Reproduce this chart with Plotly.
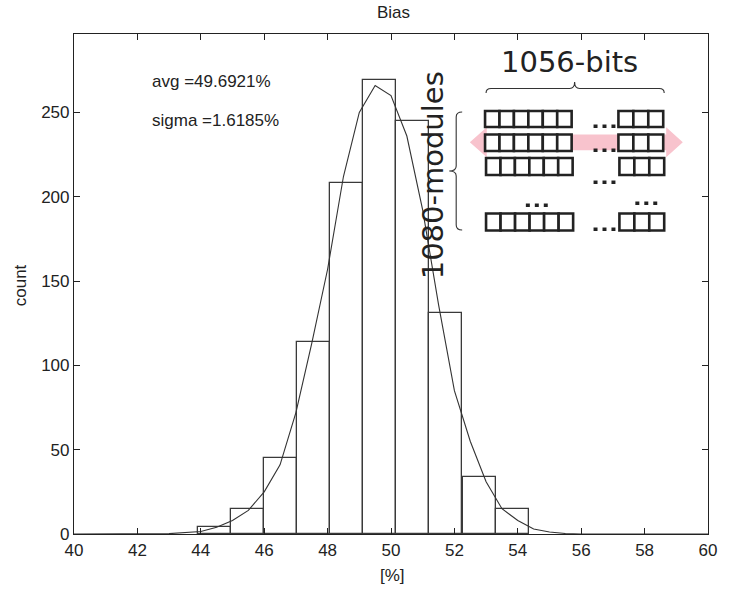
import plotly.graph_objects as go

# ---------------- data ----------------
bin_centers = [44.44, 45.48, 46.52, 47.57, 48.61, 49.65, 50.69, 51.73, 52.78, 53.82]
bin_counts = [4, 15, 45, 114, 208, 269, 245, 131, 34, 15]
bin_width = 1.042

fit_x = [40, 43, 44, 44.5, 45, 45.5, 46, 46.5, 47, 47.5, 48, 48.5, 49, 49.5, 50,
         50.5, 51, 51.5, 52, 52.5, 53, 53.5, 54, 54.5, 55, 55.5, 56, 60]
fit_y = [0, 0.2, 1.5, 4, 8, 14, 25, 41, 72, 113, 157, 212, 250, 266, 260,
         236, 192, 136, 85, 55, 31, 15, 8, 3, 1.2, 0.3, 0, 0]

x_ticks = [40, 42, 44, 46, 48, 50, 52, 54, 56, 58, 60]
y_ticks = [0, 50, 100, 150, 200, 250]

avg_text = "avg =49.6921%"
sigma_text = "sigma =1.6185%"

# ---------------- layout helpers (pixel -> paper) ----------------
W, H = 729, 589
L, R, T, B = 74, 711, 34, 534


def PX(x):
    return (x - L) / (R - L)


def PY(y):
    return (B - y) / (B - T)


def path(points, close=False):
    s = "M " + " L ".join(f"{PX(x):.5f},{PY(y):.5f}" for x, y in points)
    return s + (" Z" if close else "")


FONT = "Liberation Sans, Arial, sans-serif"
INK = "#222222"

fig = go.Figure()

fig.add_trace(go.Bar(
    x=bin_centers, y=bin_counts, width=bin_width,
    marker=dict(color="white", line=dict(color="#3a3a3a", width=1.3)),
    showlegend=False, hoverinfo="x+y",
))
fig.add_trace(go.Scatter(
    x=fit_x, y=fit_y, mode="lines",
    line=dict(color="#333333", width=1.1),
    showlegend=False,
))

shapes = []

# pink double arrow
arrow = [(471.7, 142.3), (488.7, 127.3), (488.7, 134.5), (669, 134.5), (669, 127.3),
         (685.7, 142.3), (669, 157.3), (669, 150.2), (488.7, 150.2), (488.7, 157.3)]
shapes.append(dict(type="path", xref="paper", yref="paper", path=path(arrow, True),
                   fillcolor="#f8c3cd", line=dict(width=0), layer="above"))

# grid of boxes
rows = [
    (111, 127, 487, 574, 621, 666),
    (134.5, 151, 487, 574, 621, 666),
    (158, 175, 488, 575, 622, 667),
    (213.5, 230.5, 488, 575.5, 622, 667),
]
for y0, y1, lx0, lx1, rx0, rx1 in rows:
    for (gx0, gx1, n) in [(lx0, lx1, 6), (rx0, rx1, 3)]:
        w = (gx1 - gx0) / n
        for i in range(n):
            shapes.append(dict(type="rect", xref="paper", yref="paper",
                               x0=PX(gx0 + i * w), x1=PX(gx0 + (i + 1) * w),
                               y0=PY(y1), y1=PY(y0),
                               fillcolor="white", line=dict(color=INK, width=2.6),
                               layer="above"))

# ellipsis dots
dot_groups = [(596, 128), (596, 152), (596, 184), (596, 231), (528, 207), (638, 205)]
for gx, gy in dot_groups:
    for k in range(3):
        x0 = gx + k * 9
        shapes.append(dict(type="rect", xref="paper", yref="paper",
                           x0=PX(x0), x1=PX(x0 + 4), y0=PY(gy), y1=PY(gy - 3.5),
                           fillcolor=INK, line=dict(width=0), layer="above"))

# top brace
top_brace = (f"M {PX(488):.5f},{PY(93):.5f} Q {PX(488):.5f},{PY(88.5):.5f} {PX(493):.5f},{PY(88.5):.5f} "
             f"L {PX(572):.5f},{PY(88.5):.5f} Q {PX(577):.5f},{PY(88.5):.5f} {PX(577):.5f},{PY(82):.5f} "
             f"Q {PX(577):.5f},{PY(88.5):.5f} {PX(582):.5f},{PY(88.5):.5f} "
             f"L {PX(662):.5f},{PY(88.5):.5f} Q {PX(667):.5f},{PY(88.5):.5f} {PX(667):.5f},{PY(93):.5f}")
shapes.append(dict(type="path", xref="paper", yref="paper", path=top_brace,
                   line=dict(color="#333333", width=1.1), layer="above"))

# left brace
left_brace = (f"M {PX(464):.5f},{PY(112):.5f} Q {PX(458):.5f},{PY(112):.5f} {PX(458):.5f},{PY(117):.5f} "
              f"L {PX(458):.5f},{PY(166):.5f} Q {PX(458):.5f},{PY(171):.5f} {PX(451):.5f},{PY(171):.5f} "
              f"Q {PX(458):.5f},{PY(171):.5f} {PX(458):.5f},{PY(176):.5f} "
              f"L {PX(458):.5f},{PY(225):.5f} Q {PX(458):.5f},{PY(230):.5f} {PX(464):.5f},{PY(230):.5f}")
shapes.append(dict(type="path", xref="paper", yref="paper", path=left_brace,
                   line=dict(color="#333333", width=1.1), layer="above"))

annotations = [
    dict(text=avg_text, x=PX(150), y=PY(82), xref="paper", yref="paper", xanchor="left",
         yanchor="middle", showarrow=False, font=dict(family=FONT, size=17, color=INK)),
    dict(text=sigma_text, x=PX(150), y=PY(120), xref="paper", yref="paper", xanchor="left",
         yanchor="middle", showarrow=False, font=dict(family=FONT, size=17, color=INK)),
    dict(text="[%]", x=PX(394), y=PY(575), xref="paper", yref="paper", xanchor="center",
         yanchor="middle", showarrow=False, font=dict(family=FONT, size=17, color=INK)),
    dict(text="count", x=PX(20), y=PY(285), xref="paper", yref="paper", xanchor="center",
         yanchor="middle", textangle=-90, showarrow=False,
         font=dict(family=FONT, size=17, color=INK)),
    dict(text="1056-bits", x=PX(572), y=PY(62), xref="paper", yref="paper", xanchor="center",
         yanchor="middle", showarrow=False, font=dict(family="DejaVu Sans", size=29, color=INK)),
    dict(text="1080-modules", x=PX(435), y=PY(175), xref="paper", yref="paper",
         xanchor="center", yanchor="middle", textangle=-90, showarrow=False,
         font=dict(family="DejaVu Sans", size=29, color=INK)),
]

fig.update_layout(
    width=W, height=H,
    margin=dict(l=L, r=W - R, t=T, b=H - B, pad=0),
    paper_bgcolor="white", plot_bgcolor="white",
    bargap=0,
    title=dict(text="Bias", x=PX(395), xref="paper", y=1 - 12 / H, yref="container",
               xanchor="center", yanchor="middle",
               font=dict(family=FONT, size=17, color=INK)),
    xaxis=dict(range=[40, 60], tickvals=x_ticks, ticktext=[str(v) for v in x_ticks],
               ticks="inside", ticklen=6, tickcolor="#222", mirror="allticks",
               showline=True, linecolor="#222", linewidth=1.2, showgrid=False,
               zeroline=False, tickfont=dict(family=FONT, size=17, color=INK)),
    yaxis=dict(range=[0, 296.5], tickvals=y_ticks, ticktext=[str(v) for v in y_ticks],
               ticks="inside", ticklen=6, tickcolor="#222", mirror="allticks",
               showline=True, linecolor="#222", linewidth=1.2, showgrid=False,
               zeroline=False, tickfont=dict(family=FONT, size=17, color=INK)),
    shapes=shapes,
    annotations=annotations,
)

fig.write_html(
    "out.html",
    config={"displayModeBar": False},
    post_script="document.body.style.margin='0px';document.body.style.padding='0px';"
                "document.body.style.overflow='hidden';",
)
